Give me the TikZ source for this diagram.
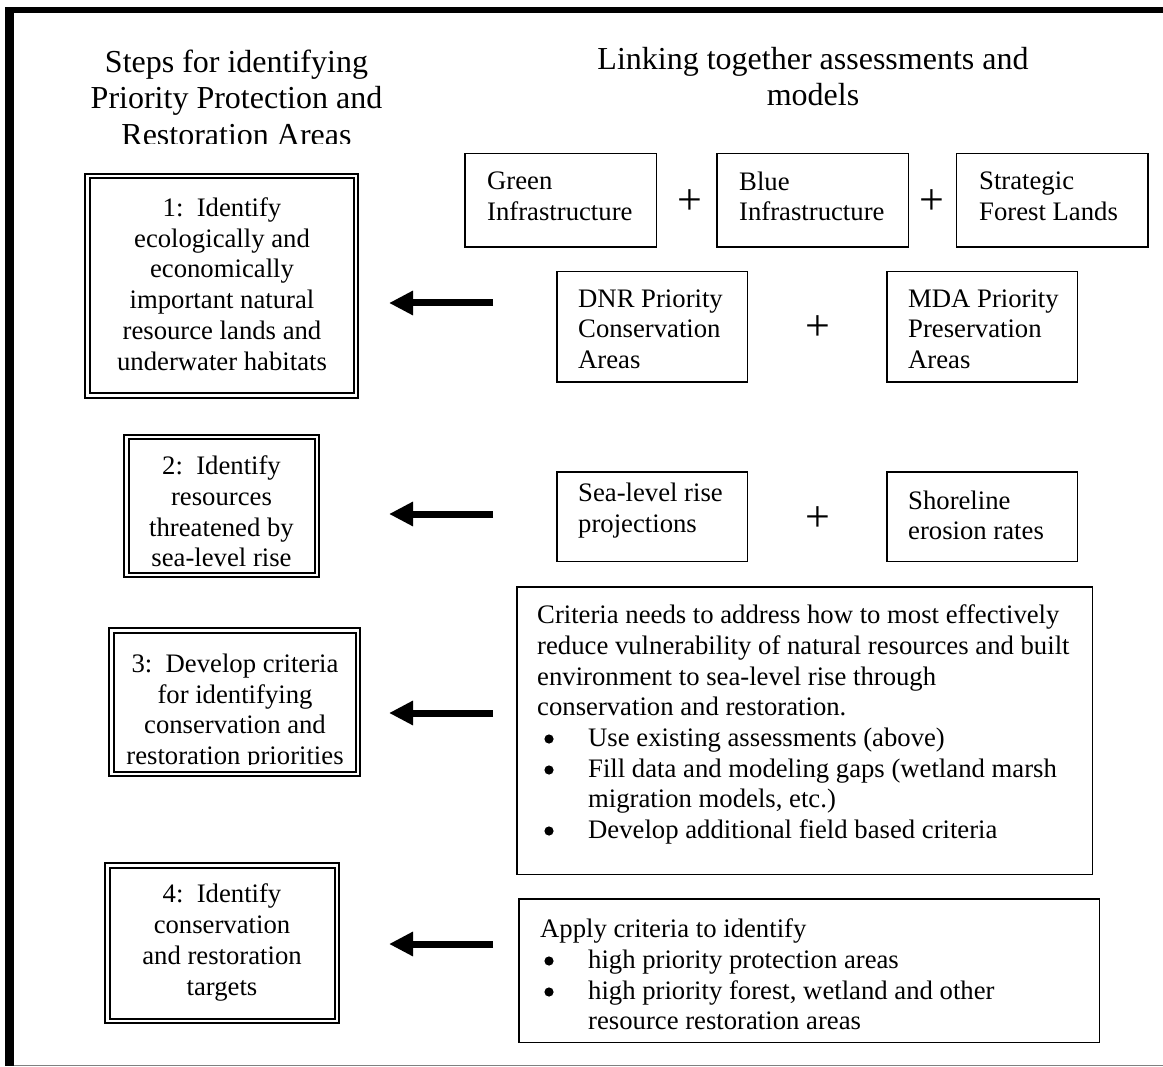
\documentclass[tikz,border=0pt]{standalone}
\usepackage{fontspec}
\setmainfont{Liberation Serif}
\usetikzlibrary{arrows.meta}
\begin{document}
\begin{tikzpicture}[x=1pt,y=-1pt,
  body/.style={font=\fontsize{26.7}{30.7}\selectfont, inner sep=0pt},
  ttl/.style={font=\fontsize{32}{36.5}\selectfont, align=center, inner sep=0pt},
  abox/.style={draw, line width=1.5pt, inner sep=0pt},
  dbox/.style={draw, double, line width=2pt, double distance=2.5pt, inner sep=0pt},
  plussign/.style={font=\fontsize{44}{44}\selectfont, inner sep=0pt},
  bigarrow/.style={line width=7pt, -{Triangle[length=24pt,width=23pt]}},
  bul/.style={fill=black},
]
\useasboundingbox (0,0) rectangle (1163,1067);
% outer frame
\fill (5,7) rectangle (1163,13);
\fill (5,7) rectangle (13.5,1066);
\draw[gray, line width=1pt] (13.5,1065.5) -- (1163,1065.5);

% titles
\begin{scope}
\clip (40,20) rectangle (460,144);
\node[ttl] (titleL) at (236.5,97.5) {Steps for identifying\\Priority Protection and\\Restoration Areas};
\end{scope}
\node[ttl] (titleR) at (813,76.5) {Linking together assessments and\\models};

% step boxes
\node[dbox, minimum width=268.5pt, minimum height=219.5pt] (s1) at (221.5,286) {};
\node[body, align=center] (s1t) at (222,284) {1:\ \ Identify\\ecologically and\\economically\\important natural\\resource lands and\\underwater habitats};

\node[dbox, minimum width=190.5pt, minimum height=137.5pt] (s2) at (221.5,506) {};
\node[body, align=center] (s2t) at (221.5,511.5) {2:\ \ Identify\\resources\\threatened by\\sea-level rise};

\node[dbox, minimum width=246.5pt, minimum height=143.5pt] (s3) at (234.5,702) {};
\begin{scope}
\clip (100,600) rectangle (370,764);
\node[body, align=center] (s3t) at (235,712) {3:\ \ Develop criteria\\for identifying\\conservation and\\restoration priorities};
\end{scope}

\node[dbox, minimum width=229.5pt, minimum height=155.5pt] (s4) at (222,943) {};
\node[body, align=center] (s4t) at (222,942.5) {4:\ \ Identify\\conservation\\and restoration\\targets};

% assessment boxes
\node[abox, minimum width=191.5pt, minimum height=93.5pt] (green) at (560.5,200.5) {};
\node[body, anchor=west, align=left] (greenT) at (487,196.5) {Green\\Infrastructure};
\node[abox, minimum width=191.5pt, minimum height=93.5pt] (blue) at (812.5,200.5) {};
\node[body, anchor=west, align=left] (blueT) at (739,196.5) {Blue\\Infrastructure};
\node[abox, minimum width=191.5pt, minimum height=93.5pt] (forest) at (1052,200.5) {};
\node[body, anchor=west, align=left] (forestT) at (979,196.5) {Strategic\\Forest Lands};
\node[plussign] (p1) at (690,202) {+};
\node[plussign] (p2) at (932,202) {+};

\node[abox, minimum width=190.5pt, minimum height=110.5pt] (dnr) at (652,327) {};
\node[body, anchor=west, align=left] (dnrT) at (578,329) {DNR Priority\\Conservation\\Areas};
\node[abox, minimum width=190.5pt, minimum height=110.5pt] (mda) at (982,327) {};
\node[body, anchor=west, align=left] (mdaT) at (908,329) {MDA Priority\\Preservation\\Areas};
\node[plussign] (p3) at (818,328) {+};

\node[abox, minimum width=190.5pt, minimum height=89.5pt] (sea) at (652,516.5) {};
\node[body, anchor=west, align=left] (seaT) at (578,510.5) {Sea-level rise\\projections};
\node[abox, minimum width=190.5pt, minimum height=89.5pt] (shore) at (982,516.5) {};
\node[body, anchor=west, align=left] (shoreT) at (908,515.5) {Shoreline\\erosion rates};
\node[plussign] (p4) at (818,519) {+};

\node[abox, minimum width=575.5pt, minimum height=287.5pt] (crit) at (804.5,730.5) {};
\node[body, anchor=west, align=left] (critT) at (537,724.5) {Criteria needs to address how to most effectively\\reduce vulnerability of natural resources and built\\environment to sea-level rise through\\conservation and restoration.\\\hspace*{51pt}Use existing assessments (above)\\\hspace*{51pt}Fill data and modeling gaps (wetland marsh\\\hspace*{51pt}migration models, etc.)\\\hspace*{51pt}Develop additional field based criteria};
\fill[bul] (549,739) circle (4.6pt);
\fill[bul] (549,770) circle (4.6pt);
\fill[bul] (549,831) circle (4.6pt);

\node[abox, minimum width=580.5pt, minimum height=143.5pt] (apply) at (809,970.5) {};
\node[body, anchor=west, align=left] (applyT) at (540,974.5) {Apply criteria to identify\\\hspace*{48pt}high priority protection areas\\\hspace*{48pt}high priority forest, wetland and other\\\hspace*{48pt}resource restoration areas};
\fill[bul] (549,961) circle (4.6pt);
\fill[bul] (549,992) circle (4.6pt);

% arrows
\coordinate (a1s) at (493,303); \coordinate (a1e) at (389,303);
\coordinate (a2s) at (493,514); \coordinate (a2e) at (389,514);
\coordinate (a3s) at (493,713); \coordinate (a3e) at (389,713);
\coordinate (a4s) at (493,944); \coordinate (a4e) at (389,944);
\draw[bigarrow] (a1s) -- (a1e);
\draw[bigarrow] (a2s) -- (a2e);
\draw[bigarrow] (a3s) -- (a3e);
\draw[bigarrow] (a4s) -- (a4e);
\end{tikzpicture}
\end{document}
